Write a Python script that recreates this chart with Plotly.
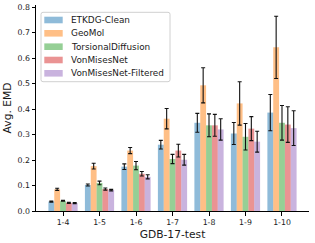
import plotly.graph_objects as go

categories = ["1-4", "1-5", "1-6", "1-7", "1-8", "1-9", "1-10"]
series_names = ["ETKDG-Clean", "GeoMol", "TorsionalDiffusion", "VonMisesNet", "VonMisesNet-Filtered"]

etkdg = [0.037, 0.102, 0.174, 0.260, 0.346, 0.304, 0.386]
etkdg_err = [0.002, 0.004, 0.011, 0.017, 0.037, 0.043, 0.071]
geomol = [0.085, 0.176, 0.237, 0.362, 0.493, 0.422, 0.642]
geomol_err = [0.004, 0.011, 0.012, 0.040, 0.069, 0.085, 0.122]
torsional = [0.040, 0.110, 0.178, 0.204, 0.336, 0.291, 0.346]
torsional_err = [0.002, 0.007, 0.016, 0.018, 0.045, 0.052, 0.068]
vonmises = [0.032, 0.086, 0.146, 0.237, 0.336, 0.323, 0.339]
vonmises_err = [0.002, 0.004, 0.009, 0.025, 0.043, 0.047, 0.070]
vonmises_f = [0.031, 0.082, 0.134, 0.201, 0.320, 0.272, 0.325]
vonmises_f_err = [0.002, 0.003, 0.008, 0.021, 0.042, 0.041, 0.068]

values = [etkdg, geomol, torsional, vonmises, vonmises_f]
errors = [etkdg_err, geomol_err, torsional_err, vonmises_err, vonmises_f_err]
colors = ["rgba(31,119,180,0.5)", "rgba(255,127,14,0.5)", "rgba(44,160,44,0.5)",
          "rgba(214,39,40,0.5)", "rgba(148,103,189,0.5)"]

W, H = 315, 243
ML, MR, MT, MB = 36, 6, 5, 32
PW, PH = W - ML - MR, H - MT - MB
FONT = "DejaVu Sans"

fig = go.Figure()
for name, v, e, c in zip(series_names, values, errors, colors):
    fig.add_trace(go.Bar(
        x=categories, y=v, name=name, marker=dict(color=c, line=dict(width=0)),
        error_y=dict(type="data", array=e, color="#111111", thickness=1.1, width=2),
        showlegend=False,
    ))

def px_x(p):
    return (p - ML) / PW

def px_y(p):
    return (MT + PH - p) / PH

# legend drawn as shapes + text (matplotlib-style compact legend)
shapes = []
annotations = []
lx0, lx1, ly0, ly1, r = 41, 170, 12.3, 81.7, 2
x0, x1 = px_x(lx0), px_x(lx1)
y0, y1 = px_y(ly0), px_y(ly1)
rx, ry = r / PW, r / PH
path = (f"M{x0+rx},{y0} L{x1-rx},{y0} Q{x1},{y0} {x1},{y0-ry} "
        f"L{x1},{y1+ry} Q{x1},{y1} {x1-rx},{y1} L{x0+rx},{y1} "
        f"Q{x0},{y1} {x0},{y1+ry} L{x0},{y0-ry} Q{x0},{y0} {x0+rx},{y0} Z")
shapes.append(dict(type="path", xref="paper", yref="paper", path=path,
                   fillcolor="rgba(255,255,255,0.8)", line=dict(color="#d0d0d0", width=1)))
row_y = [20, 33.3, 46.7, 60, 73.3]
for name, c, ry_ in zip(series_names, colors, row_y):
    shapes.append(dict(type="rect", xref="paper", yref="paper",
                       x0=px_x(44.3), x1=px_x(62.7), y0=px_y(ry_ - 3.3), y1=px_y(ry_ + 3.3),
                       fillcolor=c, line=dict(width=0)))
    annotations.append(dict(text=name, xref="paper", yref="paper", x=px_x(69.3), y=px_y(ry_),
                            xanchor="left", yanchor="middle", showarrow=False,
                            font=dict(family=FONT, size=8.9, color="#1a1a1a")))

fig.update_layout(
    width=W, height=H,
    margin=dict(l=ML, r=MR, t=MT, b=MB, pad=0),
    paper_bgcolor="white", plot_bgcolor="white",
    barmode="group", bargap=0.2, bargroupgap=0,
    font=dict(family=FONT, color="#1a1a1a"),
    shapes=shapes, annotations=annotations,
    showlegend=False,
)
fig.update_xaxes(
    range=[-0.74, 6.74], showline=True, linecolor="black", linewidth=1,
    ticks="outside", ticklen=3.5, tickwidth=1, tickcolor="black",
    tickfont=dict(size=7.8, family=FONT), showgrid=False, zeroline=False,
    automargin=False,
    title=dict(text="GDB-17-test", font=dict(size=10.7, family=FONT), standoff=4),
)
fig.update_yaxes(
    range=[0, 0.808], tickvals=[0, 0.1, 0.2, 0.3, 0.4, 0.5, 0.6, 0.7, 0.8], tickformat=".1f",
    showline=True, linecolor="black", linewidth=1,
    ticks="outside", ticklen=3.5, tickwidth=1, tickcolor="black",
    tickfont=dict(size=7.8, family=FONT), showgrid=False, zeroline=False,
    automargin=False,
    title=dict(text="Avg. EMD", font=dict(size=10.7, family=FONT), standoff=3),
)

fig.write_html("out.html", config={"displayModeBar": False},
               post_script="document.body.style.margin='0px';document.body.style.overflow='hidden';")
